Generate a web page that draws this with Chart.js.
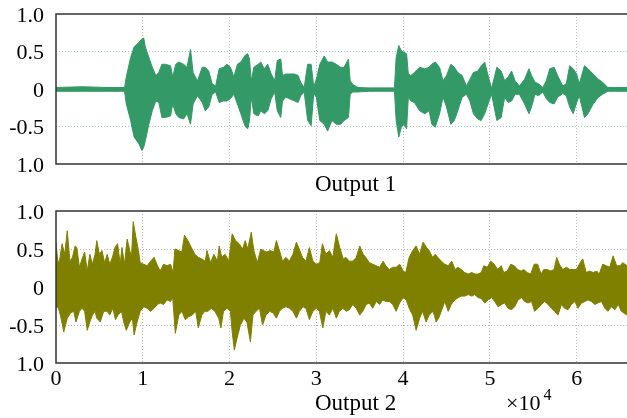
<!DOCTYPE html>
<html>
<head>
<meta charset="utf-8">
<script src="https://cdn.jsdelivr.net/npm/chart.js@4.4.0/dist/chart.umd.min.js"></script>
<style>
	html, body { margin: 0; padding: 0; background: #fff; }
	.wrap { position: relative; width: 627px; height: 418px; overflow: hidden; font-family: "Liberation Serif", "Times New Roman", serif; color: #000; }
	.wrap canvas { position: absolute; left: 0; }
	#wave1 { top: 0; }
	#wave2 { top: 200px; }
	.txt { position: absolute; white-space: nowrap; font-size: 23px; line-height: 23px; }
	.tit1 { left: 315px; top: 172px; }
	.tit2 { left: 315px; top: 391px; }
	.expo { left: 506px; top: 392px; font-size: 22px; line-height: 22px; }
	.expo span { position: relative; top: -10px; font-size: 16px; margin-left: 3px; }
</style>
</head>
<body>
<div class="wrap">
	<canvas id="wave1" width="627" height="200"></canvas>
	<canvas id="wave2" width="627" height="218"></canvas>
	<div class="txt tit1">Output 1</div>
	<div class="txt tit2">Output 2</div>
	<div class="txt expo">&times;10<span>4</span></div>
</div>
<script>
// sample index (x10^4)
var xTicks = [0, 1, 2, 3, 4, 5, 6];
var yTicks = [-1, -0.5, 0, 0.5, 1];
var yTickLabels = ['1.0', '-0.5', '0', '0.5', '1.0'];

// Output 1 envelope (upper / lower)
var out1X = [
	0, 0.3, 0.6, 0.79, 0.81, 0.86, 0.90, 0.955, 0.99, 1.01,
	1.03, 1.07, 1.11, 1.15, 1.185, 1.22, 1.26, 1.32, 1.345, 1.38,
	1.415, 1.47, 1.51, 1.55, 1.58, 1.63, 1.685, 1.72, 1.76, 1.80,
	1.84, 1.88, 1.93, 1.97, 2.01, 2.05, 2.09, 2.13, 2.18, 2.21,
	2.23, 2.25, 2.28, 2.33, 2.36, 2.40, 2.44, 2.48, 2.52, 2.55,
	2.59, 2.61, 2.65, 2.69, 2.75, 2.79, 2.82, 2.86, 2.90, 2.94,
	2.97, 3.00, 3.04, 3.09, 3.13, 3.18, 3.23, 3.28, 3.32, 3.37,
	3.39, 3.42, 3.48, 3.60, 3.75, 3.90, 3.92, 3.95, 3.98, 4.01,
	4.04, 4.06, 4.09, 4.13, 4.19, 4.25, 4.30, 4.33, 4.37, 4.42,
	4.46, 4.50, 4.55, 4.59, 4.63, 4.68, 4.73, 4.77, 4.81, 4.86,
	4.90, 4.94, 4.99, 5.02, 5.08, 5.13, 5.17, 5.21, 5.25, 5.29,
	5.34, 5.40, 5.45, 5.48, 5.52, 5.56, 5.61, 5.65, 5.69, 5.74,
	5.78, 5.84, 5.88, 5.92, 5.96, 6.00, 6.03, 6.09, 6.13, 6.19,
	6.25, 6.30, 6.36, 6.45, 6.58
];
var out1Hi = [
	.02, .03, .02, .02, .16, .42, .56, .62, .67, .68,
	.56, .42, .29, .18, .22, .33, .33, .31, .16, .33,
	.36, .33, .29, .53, .22, .11, .29, .29, .24, .07,
	.04, .27, .29, .33, .29, .16, .33, .36, .45, .47,
	.40, .11, .29, .33, .36, .27, .33, .20, .11, .38,
	.40, .18, .20, .20, .20, .18, .09, .02, .33, .33,
	.03, .13, .33, .44, .36, .36, .33, .29, .29, .40,
	.11, .06, .02, .015, .015, .015, .42, .58, .51, .49,
	.47, .20, .18, .22, .29, .27, .29, .33, .36, .29,
	.11, .18, .33, .29, .22, .18, .04, .13, .22, .24,
	.31, .36, .13, .01, .29, .24, .11, .16, .24, .11,
	.04, .13, .27, .18, .09, .07, .02, .11, .27, .29,
	.18, .04, .07, .31, .27, .20, .07, .31, .27, .20,
	.13, .09, .02, .02, .02
];
var out1Lo = [
	-.03, -.03, -.03, -.03, -.20, -.42, -.64, -.73, -.82, -.78,
	-.69, -.47, -.29, -.16, -.18, -.38, -.38, -.36, -.20, -.33,
	-.38, -.40, -.33, -.47, -.20, -.09, -.18, -.29, -.24, -.07,
	-.04, -.18, -.16, -.16, -.13, -.07, -.20, -.33, -.50, -.53,
	-.42, -.11, -.33, -.36, -.29, -.33, -.29, -.13, -.04, -.29,
	-.38, -.16, -.11, -.13, -.16, -.18, -.09, -.04, -.42, -.49,
	-.06, -.11, -.42, -.47, -.56, -.42, -.47, -.47, -.42, -.38,
	-.07, -.04, -.04, -.03, -.03, -.03, -.42, -.64, -.51, -.47,
	-.53, -.11, -.16, -.18, -.29, -.33, -.29, -.47, -.51, -.33,
	-.11, -.24, -.47, -.42, -.29, -.11, -.07, -.16, -.33, -.40,
	-.42, -.33, -.16, -.07, -.42, -.38, -.11, -.18, -.16, -.07,
	-.07, -.20, -.33, -.24, -.07, -.09, -.04, -.13, -.18, -.20,
	-.11, -.06, -.09, -.24, -.33, -.18, -.09, -.38, -.33, -.20,
	-.11, -.07, -.03, -.03, -.03
];

// Output 2 envelope, upper side
var out2HiX = [
	0, 0.02, 0.04, 0.07, 0.10, 0.13, 0.16, 0.19, 0.22, 0.24,
	0.27, 0.30, 0.33, 0.36, 0.39, 0.42, 0.45, 0.47, 0.50, 0.53,
	0.56, 0.59, 0.62, 0.65, 0.68, 0.71, 0.74, 0.76, 0.79, 0.82,
	0.85, 0.87, 0.89, 0.92, 0.95, 0.97, 1.01, 1.05, 1.09, 1.13,
	1.17, 1.20, 1.24, 1.28, 1.32, 1.35, 1.37, 1.41, 1.45, 1.48,
	1.52, 1.56, 1.60, 1.64, 1.68, 1.72, 1.74, 1.78, 1.82, 1.86,
	1.88, 1.91, 1.95, 1.99, 2.03, 2.07, 2.11, 2.15, 2.18, 2.21,
	2.25, 2.28, 2.32, 2.36, 2.39, 2.43, 2.47, 2.51, 2.54, 2.58,
	2.61, 2.65, 2.69, 2.73, 2.77, 2.81, 2.84, 2.88, 2.92, 2.96,
	3.00, 3.04, 3.07, 3.11, 3.15, 3.19, 3.23, 3.27, 3.31, 3.34,
	3.38, 3.42, 3.46, 3.50, 3.54, 3.57, 3.61, 3.65, 3.69, 3.73,
	3.77, 3.80, 3.84, 3.88, 3.92, 3.96, 4.00, 4.03, 4.07, 4.11,
	4.15, 4.19, 4.23, 4.27, 4.30, 4.34, 4.37, 4.40, 4.44, 4.48,
	4.52, 4.56, 4.60, 4.63, 4.67, 4.71, 4.75, 4.79, 4.83, 4.86,
	4.90, 4.93, 4.97, 5.01, 5.05, 5.09, 5.13, 5.16, 5.20, 5.24,
	5.28, 5.32, 5.36, 5.39, 5.43, 5.47, 5.51, 5.55, 5.59, 5.62,
	5.66, 5.70, 5.74, 5.77, 5.80, 5.84, 5.88, 5.92, 5.96, 6.00,
	6.04, 6.07, 6.11, 6.15, 6.19, 6.23, 6.26, 6.30, 6.34, 6.38,
	6.42, 6.46, 6.50, 6.53, 6.58
];
var out2Hi = [
	.59, .34, .34, .57, .43, .74, .34, .39, .54, .52,
	.26, .37, .46, .21, .43, .30, .43, .61, .43, .48,
	.32, .43, .30, .39, .52, .57, .30, .52, .30, .63,
	.48, .39, .86, .66, .48, .32, .30, .28, .34, .39,
	.28, .21, .30, .28, .30, .19, .50, .48, .46, .68,
	.61, .52, .43, .39, .37, .34, .48, .32, .43, .34,
	.54, .39, .43, .34, .70, .61, .57, .50, .61, .50,
	.72, .48, .32, .50, .48, .46, .48, .46, .61, .46,
	.34, .39, .34, .43, .59, .48, .39, .34, .52, .34,
	.30, .32, .57, .43, .48, .39, .70, .52, .37, .39,
	.34, .34, .39, .54, .43, .39, .32, .30, .28, .26,
	.34, .28, .23, .26, .26, .30, .21, .19, .39, .48,
	.54, .43, .59, .52, .48, .39, .43, .39, .34, .30,
	.28, .34, .23, .26, .23, .19, .17, .19, .17, .17,
	.19, .28, .26, .34, .30, .23, .28, .19, .21, .30,
	.28, .23, .21, .23, .19, .17, .30, .30, .17, .23,
	.23, .21, .23, .39, .30, .23, .26, .23, .23, .23,
	.32, .37, .19, .21, .19, .21, .17, .30, .28, .26,
	.41, .28, .28, .32, .28
];

// Output 2 envelope, lower side
var out2LoX = [
	0, 0.025, 0.05, 0.09, 0.13, 0.17, 0.205, 0.23, 0.27, 0.30,
	0.33, 0.36, 0.39, 0.42, 0.45, 0.47, 0.51, 0.55, 0.59, 0.62,
	0.655, 0.685, 0.715, 0.755, 0.78, 0.81, 0.85, 0.88, 0.90, 0.935,
	0.97, 1.01, 1.05, 1.09, 1.13, 1.17, 1.20, 1.24, 1.28, 1.32,
	1.345, 1.375, 1.415, 1.45, 1.49, 1.53, 1.57, 1.61, 1.64, 1.68,
	1.715, 1.75, 1.79, 1.83, 1.875, 1.90, 1.93, 1.97, 2.01, 2.03,
	2.055, 2.085, 2.125, 2.165, 2.20, 2.24, 2.27, 2.305, 2.345, 2.38,
	2.42, 2.46, 2.50, 2.54, 2.575, 2.61, 2.65, 2.69, 2.73, 2.77,
	2.805, 2.845, 2.88, 2.92, 2.96, 3.00, 3.035, 3.075, 3.11, 3.15,
	3.19, 3.23, 3.265, 3.305, 3.345, 3.38, 3.42, 3.46, 3.50, 3.535,
	3.575, 3.61, 3.65, 3.69, 3.73, 3.765, 3.80, 3.84, 3.88, 3.92,
	3.96, 4.00, 4.035, 4.07, 4.11, 4.15, 4.19, 4.225, 4.265, 4.30,
	4.34, 4.36, 4.38, 4.41, 4.44, 4.48, 4.52, 4.555, 4.595, 4.635,
	4.67, 4.71, 4.75, 4.79, 4.825, 4.865, 4.90, 4.94, 4.98, 5.02,
	5.055, 5.095, 5.135, 5.17, 5.21, 5.25, 5.285, 5.325, 5.365, 5.40,
	5.44, 5.48, 5.515, 5.555, 5.595, 5.63, 5.67, 5.71, 5.745, 5.785,
	5.825, 5.86, 5.90, 5.94, 5.98, 6.015, 6.055, 6.095, 6.13, 6.17,
	6.21, 6.245, 6.285, 6.325, 6.36, 6.40, 6.44, 6.48, 6.515, 6.58
];
var out2Lo = [
	-.28, -.26, -.37, -.59, -.41, -.34, -.32, -.46, -.32, -.28,
	-.32, -.57, -.46, -.37, -.32, -.41, -.46, -.32, -.32, -.37,
	-.28, -.43, -.37, -.32, -.46, -.57, -.46, -.41, -.63, -.46,
	-.32, -.26, -.28, -.32, -.28, -.23, -.21, -.23, -.17, -.19,
	-.14, -.61, -.37, -.32, -.43, -.39, -.37, -.32, -.54, -.37,
	-.32, -.32, -.28, -.32, -.41, -.54, -.32, -.28, -.32, -.59,
	-.83, -.68, -.50, -.41, -.46, -.72, -.37, -.32, -.28, -.50,
	-.37, -.32, -.34, -.41, -.32, -.28, -.26, -.28, -.32, -.41,
	-.32, -.26, -.28, -.43, -.32, -.28, -.32, -.54, -.32, -.37,
	-.28, -.41, -.32, -.28, -.32, -.30, -.23, -.28, -.37, -.32,
	-.23, -.21, -.28, -.19, -.23, -.17, -.19, -.19, -.23, -.32,
	-.21, -.14, -.17, -.28, -.37, -.57, -.41, -.32, -.46, -.37,
	-.32, -.37, -.46, -.41, -.32, -.19, -.32, -.23, -.17, -.14,
	-.12, -.12, -.10, -.12, -.10, -.14, -.15, -.21, -.17, -.14,
	-.19, -.26, -.23, -.21, -.28, -.30, -.26, -.17, -.14, -.19,
	-.21, -.19, -.32, -.28, -.23, -.19, -.23, -.28, -.32, -.37,
	-.23, -.28, -.30, -.23, -.19, -.28, -.21, -.19, -.17, -.19,
	-.23, -.21, -.19, -.28, -.32, -.26, -.30, -.23, -.32, -.37
];

var xMax = 6.58;
var green = 'rgb(51, 153, 102)';
var olive = 'rgb(128, 128, 0)';

function toPoints(xs, ys) {
	return xs.map(function (x, i) {
		return { x: x, y: ys[i] };
	});
}

function waveSet(xs, ys, color) {
	return {
		data: toPoints(xs, ys),
		borderColor: color,
		backgroundColor: color,
		borderWidth: 1,
		pointRadius: 0,
		tension: 0,
		fill: 'origin'
	};
}

// box round the plot (right side is cut off in the original)
var framePlugin = {
	id: 'frame',
	afterDraw: function (chart) {
		var a = chart.chartArea;
		var c = chart.ctx;
		c.save();
		c.strokeStyle = '#333';
		c.lineWidth = 1.5;
		c.beginPath();
		c.moveTo(a.right, a.top);
		c.lineTo(a.left, a.top);
		c.lineTo(a.left, a.bottom);
		c.lineTo(a.right, a.bottom);
		c.stroke();
		c.restore();
	}
};

function waveOptions(showX, padTop, xHeight, hGrid) {
	return {
		responsive: false,
		animation: false,
		events: [],
		layout: { padding: { top: padTop, left: 0, right: 0, bottom: 0 } },
		plugins: { legend: { display: false }, tooltip: { enabled: false } },
		scales: {
			x: {
				type: 'linear',
				min: 0,
				max: xMax,
				afterBuildTicks: function (scale) {
					scale.ticks = xTicks.map(function (v) { return { value: v }; });
				},
				afterFit: function (scale) { scale.height = xHeight; },
				ticks: {
					display: showX,
					color: '#000',
					padding: 5,
					maxRotation: 0,
					font: { family: 'Liberation Serif', size: 22, lineHeight: 1 }
				},
				grid: {
					drawTicks: false,
					lineWidth: 1,
					color: function (ctx) {
						return ctx.tick && ctx.tick.value === 0 ? 'rgba(0,0,0,0)' : '#b8b8b8';
					}
				},
				border: { display: false, dash: [1, 2] }
			},
			y: {
				min: -1,
				max: 1,
				afterBuildTicks: function (scale) {
					scale.ticks = yTicks.map(function (v) { return { value: v }; });
				},
				afterFit: function (scale) { scale.width = 56; },
				ticks: {
					color: '#000',
					padding: 0,
					labelOffset: 2,
					font: { family: 'Liberation Serif', size: 22, lineHeight: 1 },
					callback: function (value, index) { return yTickLabels[index]; }
				},
				grid: {
					drawTicks: true,
					tickLength: 12,
					tickColor: 'rgba(0,0,0,0)',
					lineWidth: 1,
					color: function (ctx) {
						var v = ctx.tick ? ctx.tick.value : 0;
						return Math.abs(v) === 0.5 ? hGrid : 'rgba(0,0,0,0)';
					}
				},
				border: { display: false, dash: [1, 2] }
			}
		}
	};
}

window.onload = function () {

	// Output 1
	if (document.getElementById('wave1')) {
		var ctx = document.getElementById('wave1').getContext('2d');
		var chart1 = new Chart(ctx, {
			type: 'line',
			data: {
				datasets: [
					waveSet(out1X, out1Hi, green),
					waveSet(out1X, out1Lo, green)
				]
			},
			options: waveOptions(false, 14, 36, '#a9cdbb'),
			plugins: [framePlugin]
		});
	}

	// Output 2
	if (document.getElementById('wave2')) {
		var ctx = document.getElementById('wave2').getContext('2d');
		var chart2 = new Chart(ctx, {
			type: 'line',
			data: {
				datasets: [
					waveSet(out2HiX, out2Hi, olive),
					waveSet(out2LoX, out2Lo, olive)
				]
			},
			options: waveOptions(true, 11, 55, '#b8b8b8'),
			plugins: [framePlugin]
		});
	}

};
</script>
</body>
</html>
